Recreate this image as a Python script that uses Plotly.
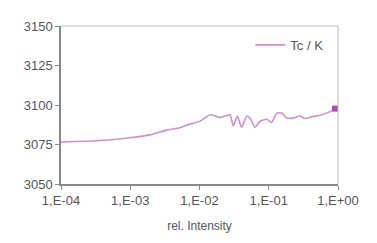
import plotly.graph_objects as go

intensity = [1.0e-4, 3.65e-4, 1.0e-3, 1.93e-3, 3.36e-3, 5.22e-3, 6.53e-3, 1.02e-2,
             1.20e-2, 1.42e-2, 1.67e-2, 1.98e-2, 2.33e-2, 2.75e-2, 3.08e-2, 3.52e-2,
             4.06e-2, 4.80e-2, 5.48e-2, 6.32e-2, 7.48e-2, 9.33e-2, 0.110, 0.130,
             0.154, 0.182, 0.226, 0.282, 0.333, 0.417, 0.550, 0.766, 0.906]
tc_k = [3076.5, 3077.5, 3079.3, 3081.1, 3084.1, 3085.6, 3087.2, 3089.8,
        3091.8, 3093.8, 3093.2, 3092.0, 3093.0, 3093.8, 3086.8, 3093.0,
        3085.8, 3093.0, 3091.2, 3085.8, 3089.7, 3091.0, 3089.0, 3094.8,
        3095.0, 3091.7, 3091.7, 3093.0, 3091.5, 3092.5, 3093.5, 3095.8, 3097.7]
x_tickvals = [1e-4, 1e-3, 1e-2, 1e-1, 1e0]
x_ticktext = ["1,E-04", "1,E-03", "1,E-02", "1,E-01", "1,E+00"]
y_tickvals = [3050, 3075, 3100, 3125, 3150]

fig = go.Figure()
fig.add_trace(go.Scatter(x=intensity, y=tc_k, mode="lines", name="Tc / K",
                         line=dict(color="#cf8fcf", width=1.6, shape="spline", smoothing=0.6)))
fig.add_trace(go.Scatter(x=[intensity[-1]], y=[tc_k[-1]], mode="markers", showlegend=False,
                         marker=dict(symbol="square", size=6, color="#b347b3")))

font = dict(family="Liberation Sans, Arial, sans-serif", size=13, color="#555555")
fig.update_layout(
    width=377, height=243,
    margin=dict(l=53, r=47, t=11, b=67),
    paper_bgcolor="white", plot_bgcolor="white",
    font=font,
    showlegend=True,
    legend=dict(x=0.965, y=0.88, xanchor="right", yanchor="middle",
                bgcolor="rgba(0,0,0,0)", font=dict(size=13, color="#555555"),
                itemwidth=30),
    shapes=[dict(type="line", xref="paper", yref="paper", x0=0, x1=1, y0=1, y1=1,
                 line=dict(color="#bbbbbb", width=1)),
            dict(type="line", xref="paper", yref="paper", x0=1, x1=1, y0=0, y1=1,
                 line=dict(color="#bbbbbb", width=1))],
)
fig.update_xaxes(type="log", range=[-4, 0], tickvals=x_tickvals, ticktext=x_ticktext,
                 showgrid=False, zeroline=False, showline=True, linecolor="#888888",
                 linewidth=1.5, ticks="outside", ticklen=4, tickcolor="#888888",
                 title=dict(text="rel. Intensity", font=dict(size=12, color="#555555"), standoff=14))
fig.update_yaxes(range=[3050, 3150], tickvals=y_tickvals, showgrid=False, zeroline=False,
                 showline=True, linecolor="#888888", linewidth=1.5, ticks="outside",
                 ticklen=4, tickcolor="#888888")

fig.write_html("out.html")
